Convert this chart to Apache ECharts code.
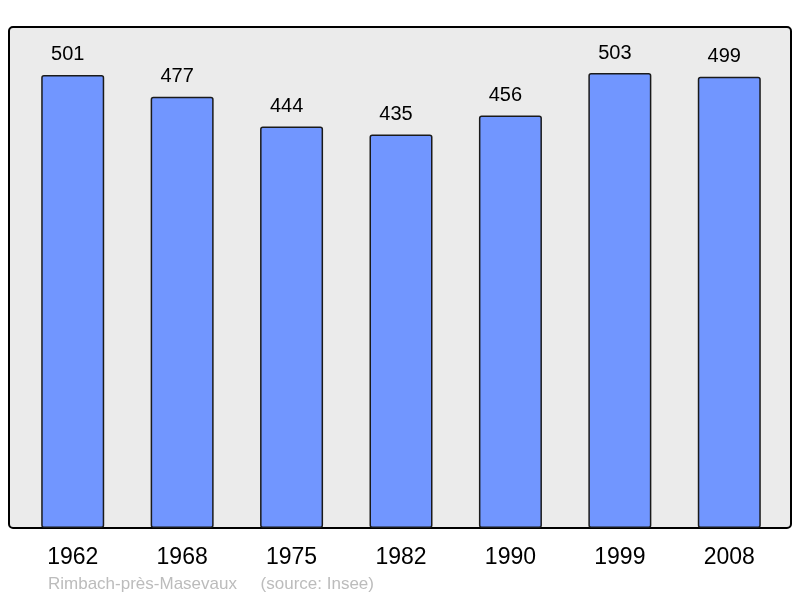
<!DOCTYPE html>
<html>
<head>
<meta charset="utf-8">
<script src="https://cdn.jsdelivr.net/npm/echarts@6/dist/echarts.min.js"></script>
<style>
  html, body { margin: 0; padding: 0; background: #fff; }
  #chart { width: 800px; height: 598px; }
</style>
</head>
<body>
<div id="chart"></div>
<script>
// annees du recensement et population
var years = ['1962', '1968', '1975', '1982', '1990', '1999', '2008'];
var population = [501, 477, 444, 435, 456, 503, 499];
var footer = 'Rimbach-près-Masevaux     (source: Insee)';

var chart = echarts.init(document.getElementById('chart'));

var option = {
  animation: false,
  textStyle: { fontFamily: 'Liberation Sans, Arial, sans-serif' },
  graphic: [
    {
      type: 'rect',
      z: -10,
      shape: { x: 9, y: 27, width: 782, height: 501, r: 4 },
      style: { fill: '#ebebeb', stroke: '#000', lineWidth: 2 }
    },
    {
      type: 'text',
      left: 48,
      top: 576,
      style: { text: footer, fill: '#bcbcbc', fontSize: 17, fontFamily: 'Liberation Sans, Arial, sans-serif' }
    }
  ],
  grid: { left: 18, right: 16, top: 27, bottom: 70 },
  xAxis: {
    type: 'category',
    data: years,
    axisLine: { show: false },
    axisTick: { show: false },
    axisLabel: { color: '#000', fontSize: 23, margin: 18 }
  },
  yAxis: {
    type: 'value',
    min: 0,
    max: 554,
    show: false,
    splitLine: { show: false }
  },
  series: [{
    type: 'bar',
    data: population,
    barWidth: 63,
    itemStyle: { color: '#7196ff', borderColor: '#1a1a1a', borderWidth: 1.5, borderRadius: 2 },
    label: { show: true, position: 'top', distance: 10, offset: [-5, 0], color: '#000', fontSize: 20 }
  }]
};

chart.setOption(option);
</script>
</body>
</html>
